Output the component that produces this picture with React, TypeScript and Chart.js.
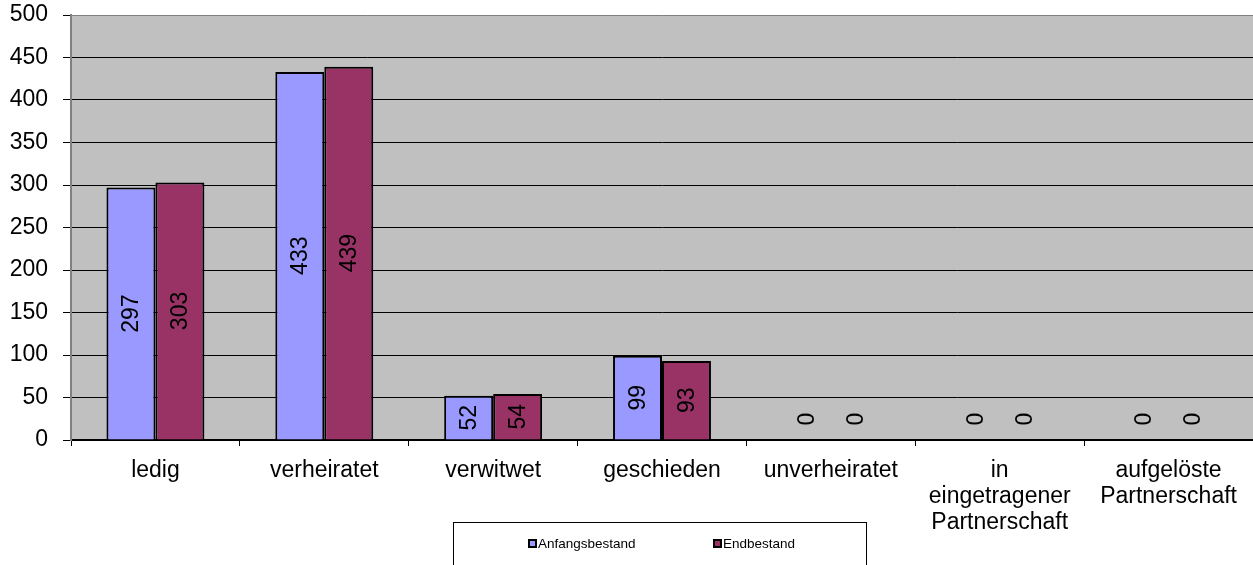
import React, { useEffect, useRef } from "react";
import { Chart, registerables } from "chart.js";

Chart.register(...registerables);

const categories: (string | string[])[] = [
  "ledig",
  "verheiratet",
  "verwitwet",
  "geschieden",
  "unverheiratet",
  ["in", "eingetragener", "Partnerschaft"],
  ["aufgelöste", "Partnerschaft"],
];
const anfangsbestand = [297, 433, 52, 99, 0, 0, 0];
const endbestand = [303, 439, 54, 93, 0, 0, 0];
const seriesNames = ["Anfangsbestand", "Endbestand"];
const seriesColors = ["#9999FF", "#993366"];

const FONT = "Arial, 'Liberation Sans', sans-serif";

const bgPlugin = {
  id: "plotBg",
  beforeDraw(chart: any) {
    const { ctx, chartArea } = chart;
    ctx.save();
    ctx.fillStyle = "#C0C0C0";
    ctx.fillRect(chartArea.left, chartArea.top, chartArea.right - chartArea.left, chartArea.bottom - chartArea.top);
    ctx.restore();
  },
};

const labelPlugin = {
  id: "valueLabels",
  afterDatasetsDraw(chart: any) {
    const { ctx } = chart;
    ctx.save();
    ctx.font = `23px ${FONT}`;
    ctx.fillStyle = "#000";
    ctx.textAlign = "center";
    ctx.textBaseline = "middle";
    chart.data.datasets.forEach((ds: any, i: number) => {
      const meta = chart.getDatasetMeta(i);
      meta.data.forEach((bar: any, j: number) => {
        const v = ds.data[j];
        let cy = (bar.y + bar.base) / 2;
        if (v === 0) cy = bar.base - 21;
        ctx.save();
        ctx.translate(bar.x, cy);
        ctx.rotate(-Math.PI / 2);
        ctx.fillText(String(v), 0, 1);
        ctx.restore();
      });
    });
    ctx.restore();
  },
};

const legendPlugin = {
  id: "boxLegend",
  afterDraw(chart: any) {
    const { ctx } = chart;
    ctx.save();
    ctx.strokeStyle = "#000";
    ctx.lineWidth = 1;
    ctx.fillStyle = "#fff";
    ctx.fillRect(453.5, 522.5, 413, 50);
    ctx.strokeRect(453.5, 522.5, 413, 50);
    ctx.font = `13.5px ${FONT}`;
    ctx.textBaseline = "middle";
    ctx.textAlign = "left";
    const xs = [528, 713];
    seriesNames.forEach((n, i) => {
      const x = xs[i];
      ctx.fillStyle = "#000";
      ctx.fillRect(x, 539, 9, 9);
      ctx.fillStyle = seriesColors[i];
      ctx.fillRect(x + 2, 541, 5, 5);
      ctx.fillStyle = "#000";
      ctx.fillText(n, x + 10, 544);
    });
    ctx.restore();
  },
};

export default function App() {
  const ref = useRef<HTMLCanvasElement>(null);
  useEffect(() => {
    if (!ref.current) return;
    const chart = new Chart(ref.current, {
      type: "bar",
      data: {
        labels: categories as any,
        datasets: [
          {
            label: seriesNames[0],
            data: anfangsbestand,
            backgroundColor: seriesColors[0],
            borderColor: "#000",
            borderWidth: 2,
            categoryPercentage: 0.58,
            barPercentage: 1,
          },
          {
            label: seriesNames[1],
            data: endbestand,
            backgroundColor: seriesColors[1],
            borderColor: "#000",
            borderWidth: 2,
            categoryPercentage: 0.58,
            barPercentage: 1,
          },
        ],
      },
      options: {
        animation: false,
        responsive: false,
        layout: { padding: { top: 15, right: 0, left: 0, bottom: 0 } },
        plugins: { legend: { display: false }, tooltip: { enabled: false } },
        scales: {
          x: {
            offset: true,
            grid: { display: true, drawOnChartArea: false, drawTicks: true, tickLength: 6, color: "#000", offset: true },
            border: { display: true, color: "#000", width: 2 },
            ticks: {
              color: "#000",
              font: { size: 23, family: FONT, lineHeight: 1.13 },
              padding: 12,
              maxRotation: 0,
              autoSkip: false,
            },
            afterFit(scale: any) {
              scale.height = 125;
            },
          },
          y: {
            min: 0,
            max: 500,
            ticks: { stepSize: 50, color: "#000", font: { size: 23, family: FONT, lineHeight: 0.5 }, padding: 15 },
            grid: {
              color: (c: any) => (c.tick && c.tick.value === 500 ? "#808080" : "#000"),
              tickColor: "#000",
              tickLength: 8,
              lineWidth: 1,
            },
            border: { display: true, color: "#808080", width: 2 },
            afterFit(scale: any) {
              scale.width = 71;
              scale.paddingTop = 0;
              scale.paddingBottom = 0;
            },
          },
        },
      },
      plugins: [bgPlugin, labelPlugin, legendPlugin],
    });
    return () => chart.destroy();
  }, []);
  return (
    <div style={{ position: "fixed", left: 0, top: 0, width: 1253, height: 565, background: "#fff" }}>
      <canvas ref={ref} width={1253} height={565} style={{ display: "block" }} />
    </div>
  );
}
